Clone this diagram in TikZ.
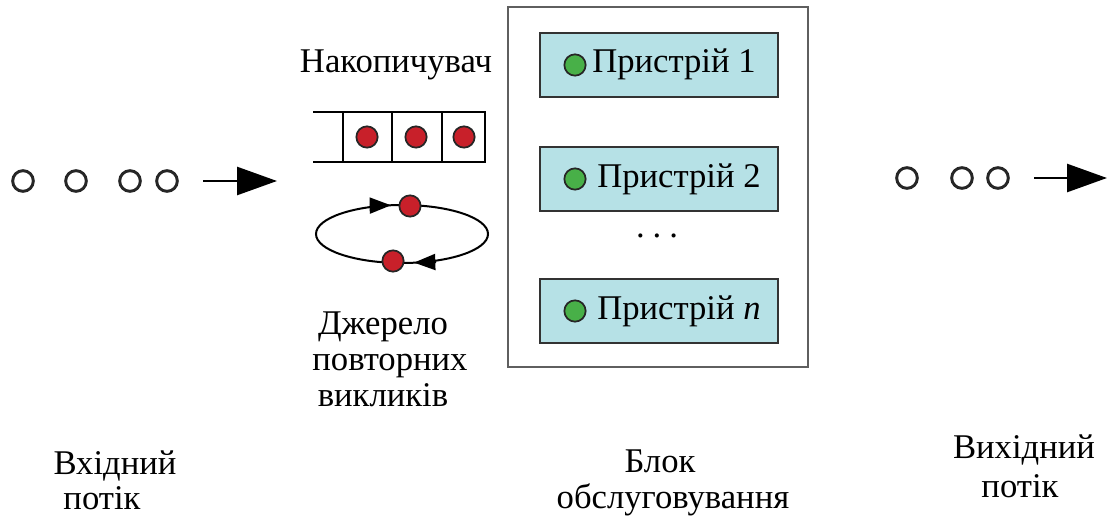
\documentclass[tikz,border=0pt]{standalone}
\usepackage{fontspec}
\setmainfont{Liberation Serif}
\usetikzlibrary{arrows.meta,positioning}
\definecolor{CallRed}{RGB}{200,32,42}
\definecolor{BusyGreen}{RGB}{72,176,72}
\definecolor{DeviceCyan}{RGB}{182,225,230}
\definecolor{FrameGray}{RGB}{95,95,95}

\begin{document}
\begin{tikzpicture}[x=0.75pt,y=-0.75pt,>=Latex,
    font=\fontsize{26}{31}\selectfont,
    client/.style={circle,draw=black!85,line width=2.2pt,minimum size=15.5pt,inner sep=0pt},
    call/.style={circle,draw=black!85,fill=CallRed,line width=1.3pt,minimum size=16pt,inner sep=0pt},
    busy/.style={circle,draw=black!85,fill=BusyGreen,line width=1.3pt,minimum size=16pt,inner sep=0pt},
    device/.style={draw=black!80,fill=DeviceCyan,line width=2.2pt,minimum width=178.5pt,minimum height=48pt,inner sep=0pt},
    flow/.style={-{Triangle[length=30pt,width=21pt]},line width=2pt},
    orbit/.style={-{Triangle[length=16pt,width=12pt]},line width=1.5pt}]
  \useasboundingbox (0,0) rectangle (1108,517);

  % incoming requests
  \foreach \x [count=\i] in {23,76,130,167}
    \node[client] (in\i) at (\x,181) {};
  \coordinate (inStart) at (203,181);
  \coordinate (inEnd) at (277,181);
  \draw[flow] (inStart) -- (inEnd);

  % buffer
  \node[anchor=base] (store) at (396,73) {Накопичувач};
  \draw[line width=2pt] (313,112) -- (485,112) -- (485,162) -- (313,162);
  \foreach \x in {343,392,442}
    \draw[line width=2pt] (\x,112) -- (\x,162);
  \foreach \x [count=\i] in {367,416,464}
    \node[call] (q\i) at (\x,137) {};

  % orbit of repeated calls
  \draw[line width=1.5pt] (402,234) ellipse [x radius=86, y radius=29];
  \coordinate (topA) at (370,205.6);
  \coordinate (topB) at (391,205.3);
  \coordinate (botA) at (436,262.0);
  \coordinate (botB) at (414,262.6);
  \draw[orbit] (topA) -- (topB);
  \draw[orbit] (botA) -- (botB);
  \node[call] (r1) at (410,206) {};
  \node[call] (r2) at (393,261) {};
  \node[anchor=base] (src1) at (383,334) {Джерело};
  \node[anchor=base] (src2) at (390,370) {повторних};
  \node[anchor=base] (src3) at (383,406) {викликів};

  % service block
  \draw[FrameGray,line width=1.5pt] (508,7) rectangle (808,367);
  \node[device] (dev1) at (659,65) {};
  \node[device] (dev2) at (659,179) {};
  \node[device] (devn) at (659,311) {};
  \node[busy] (s1) at (575,65) {};
  \node[busy] (s2) at (575,179) {};
  \node[busy] (sn) at (575,311) {};
  \node[anchor=base west,inner sep=0pt] (lab1) at (592,73) {Пристрій 1};
  \node[anchor=base west,inner sep=0pt] (lab2) at (597,187) {Пристрій 2};
  \node[anchor=base west,inner sep=0pt] (labn) at (597,319) {Пристрій \textit{n}};
  \node[anchor=base] (dots) at (657,238) {.\hspace{6pt}.\hspace{6pt}.};

  % outgoing requests
  \foreach \x [count=\i] in {907,962,998}
    \node[client] (out\i) at (\x,178) {};
  \coordinate (outStart) at (1034,178);
  \coordinate (outEnd) at (1107,178);
  \draw[flow] (outStart) -- (outEnd);

  % captions
  \node[anchor=base] (capIn1) at (115,474) {Вхідний};
  \node[anchor=base] (capIn2) at (102,509) {потік};
  \node[anchor=base] (capBlk1) at (660,472) {Блок};
  \node[anchor=base] (capBlk2) at (673,508) {обслуговування};
  \node[anchor=base] (capOut1) at (1024,458) {Вихідний};
  \node[anchor=base] (capOut2) at (1020,497) {потік};
\end{tikzpicture}
\end{document}
